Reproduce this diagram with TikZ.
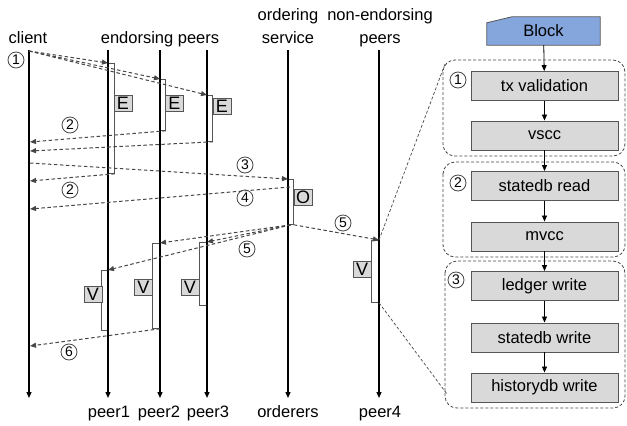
\documentclass[tikz,border=0pt]{standalone}
\usepackage{fontspec}
\setmainfont{Liberation Sans}
\usetikzlibrary{arrows.meta,calc,backgrounds}
\definecolor{boxgray}{RGB}{217,217,217}
\definecolor{edgegray}{RGB}{85,85,85}
\definecolor{blockblue}{RGB}{132,166,220}
\definecolor{dashgray}{RGB}{70,70,70}

\begin{document}
\begin{tikzpicture}[x=1pt,y=-1pt,
  font=\fontsize{16.5}{23}\selectfont,
  life/.style={line width=1.3pt,-{Triangle[length=6pt,width=5pt]}},
  act/.style={draw=edgegray,fill=white,line width=0.8pt,minimum width=6pt,inner sep=0pt},
  tag/.style={draw=edgegray,fill=boxgray,line width=0.8pt,minimum width=18pt,minimum height=16pt,inner sep=0pt,font=\fontsize{18}{18}\selectfont},
  msg/.style={dashgray,line width=1pt,dash pattern=on 3.5pt off 2.5pt,-{Triangle[length=6pt,width=5pt]}},
  num/.style={circle,draw=dashgray,line width=0.8pt,minimum size=16pt,inner sep=0pt,font=\fontsize{14}{14}\selectfont},
  stage/.style={draw=edgegray,fill=boxgray,line width=0.9pt,minimum width=147pt,minimum height=29pt,inner sep=0pt},
  group/.style={dashgray,line width=0.8pt,dash pattern=on 3pt off 2pt,rounded corners=12pt},
  zoomline/.style={dashgray,line width=0.7pt,dash pattern=on 3pt off 2pt},
  flow/.style={line width=0.8pt,-{Triangle[length=6pt,width=5pt]}},
]
\useasboundingbox (0,0) rectangle (627,426);

% ---- participant headers ----
\node[anchor=base] (hclient) at (28,43) {client};
\node[anchor=base] (hendorse) at (160,43) {endorsing peers};
\node[anchor=base,align=center] (horder) at (288,43) {ordering\\service};
\node[anchor=base,align=center] (hnonend) at (380,43) {non-endorsing\\peers};

% ---- lifeline end points ----
\coordinate (cT) at (29,50);   \coordinate (cB) at (29,398);
\coordinate (p1T) at (108,50); \coordinate (p1B) at (108,398);
\coordinate (p2T) at (160,50); \coordinate (p2B) at (160,398);
\coordinate (p3T) at (207,50); \coordinate (p3B) at (207,398);
\coordinate (oT) at (288,50);  \coordinate (oB) at (288,398);
\coordinate (p4T) at (379,50); \coordinate (p4B) at (379,398);

% ---- activation bars ----
\node[act,anchor=north west,minimum height=110pt] (e1) at (108,63) {};
\node[act,anchor=north west,minimum height=51pt,minimum width=5pt] (e2) at (160,79) {};
\node[act,anchor=north west,minimum height=46pt,minimum width=5pt] (e3) at (207,95) {};
\node[act,anchor=north west,minimum height=45pt,minimum width=5pt] (ob) at (288,179) {};
\node[act,anchor=north east,minimum height=60pt] (v1) at (108,270) {};
\node[act,anchor=north east,minimum height=85pt,minimum width=7pt] (v2) at (160,243) {};
\node[act,anchor=north east,minimum height=63pt,minimum width=7pt] (v3) at (207,242) {};
\node[act,anchor=north east,minimum height=62pt,minimum width=7pt] (v4) at (379,240) {};

% ---- lifelines ----
\draw[life] (cT) -- (cB);
\draw[life] (p1T) -- (p1B);
\draw[life] (p2T) -- (p2B);
\draw[life] (p3T) -- (p3B);
\draw[life] (oT) -- (oB);
\draw[life] (p4T) -- (p4B);

% ---- phase tags ----
\node[tag] (te1) at (123,103) {E};
\node[tag] (te2) at (174.5,103) {E};
\node[tag] (te3) at (222,106) {E};
\node[tag] (to) at (303,197.5) {O};
\node[tag] (tv1) at (93,294) {V};
\node[tag] (tv2) at (143.5,287) {V};
\node[tag] (tv3) at (190,287) {V};
\node[tag] (tv4) at (362,269) {V};

% ---- message anchors on the client line ----
\coordinate (c1) at (29,51);
\coordinate (c2a) at (30,142);
\coordinate (c2b) at (30,151);
\coordinate (c3) at (30,163);
\coordinate (c2c) at (30,181);
\coordinate (o4) at (290,187);
\coordinate (c4) at (30,209);
\coordinate (c6) at (30,346);

% ---- messages ----
\draw[msg] (c1) -- (e1.north west);
\draw[msg] (c1) -- (e2.north west);
\draw[msg] (c1) -- (e3.north west);
\draw[msg] (e2.south east) -- (c2a);
\draw[msg] (e3.south east) -- (c2b);
\draw[msg] (e1.south east) -- (c2c);
\draw[msg] (c3) -- (ob.north west);
\draw[msg] (o4) -- (c4);
\draw[msg] (ob.south) -- (v2.north east);
\draw[msg] (ob.south) -- (v3.north east);
\draw[msg] (ob.south) -- (v1.north east);
\draw[msg] (ob.south east) -- (v4.north east);
\draw[msg] (v2.south east) -- (c6);

% ---- step numbers ----
\node[num] (n1) at (16,60) {1};
\node[num] (n2a) at (70,125) {2};
\node[num] (n2b) at (70,190) {2};
\node[num] (n3) at (245,165) {3};
\node[num] (n4) at (245,198) {4};
\node[num] (n5a) at (247,249) {5};
\node[num] (n5b) at (343,223) {5};
\node[num] (n6) at (69,352) {6};

% ---- block validation pipeline ----
\node[minimum width=113pt,minimum height=28pt,inner sep=0pt] (blk) at (543.5,31) {Block};
\begin{scope}[on background layer]
  \filldraw[fill=blockblue,draw=edgegray,line width=0.8pt]
    (blk.south west) -- ($(blk.north west)+(0,6)$) -- ($(blk.north west)+(25,0)$)
    -- (blk.north east) -- (blk.south east) -- cycle;
\end{scope}

\node[stage] (s1) at (544.5,86) {tx validation};
\node[stage] (s2) at (544.5,135.5) {vscc};
\node[stage] (s3) at (544.5,186) {statedb read};
\node[stage] (s4) at (544.5,236.5) {mvcc};
\node[stage] (s5) at (544.5,286) {ledger write};
\node[stage] (s6) at (544.5,337.5) {statedb write};
\node[stage] (s7) at (544.5,387.5) {historydb write};

\draw[flow] (blk) -- (s1);
\draw[flow] (s1) -- (s2);
\draw[flow] (s2) -- (s3);
\draw[flow] (s3) -- (s4);
\draw[flow] (s4) -- (s5);
\draw[flow] (s5) -- (s6);
\draw[flow] (s6) -- (s7);

% ---- stage groups ----
\draw[group] (443,60) rectangle (625,156);
\draw[group] (443,162) rectangle (625,257);
\draw[group] (445,261) rectangle (625,408);
\node[num] (g1) at (458,80) {1};
\node[num] (g2) at (458,183) {2};
\node[num] (g3) at (456,280) {3};

% ---- zoom lines from peer4 to the pipeline ----
\coordinate (z1) at (445,64);
\coordinate (z3) at (447,394);
\draw[zoomline] (v4.north east) -- (z1);
\draw[zoomline] (v4.south east) -- (z3);

% ---- participant footers ----
\node[anchor=base] (fp1) at (109,417) {peer1};
\node[anchor=base] (fp2) at (159,417) {peer2};
\node[anchor=base] (fp3) at (208,417) {peer3};
\node[anchor=base] (fo) at (288,417) {orderers};
\node[anchor=base] (fp4) at (380,417) {peer4};
\end{tikzpicture}
\end{document}
